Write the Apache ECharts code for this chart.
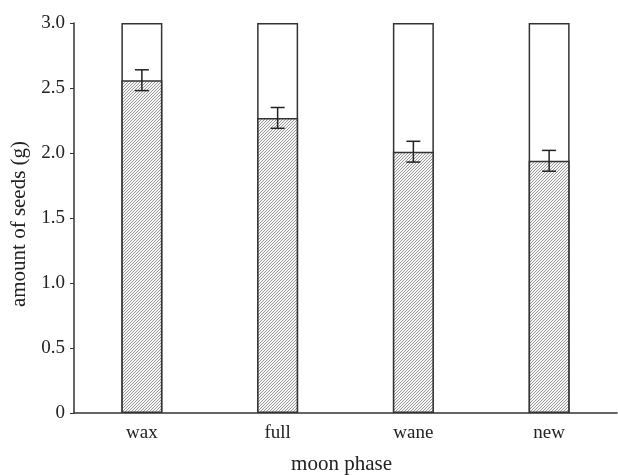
<!DOCTYPE html>
<html><head><meta charset="utf-8">
<script src="https://cdn.jsdelivr.net/npm/echarts@6/dist/echarts.min.js"></script>
<style>html,body{margin:0;padding:0;background:#fff}#c{width:618px;height:475px}</style>
</head><body><div id="c"></div>
<script>
var categories = ['wax', 'full', 'wane', 'new'];
var totalSeeds = [3.0, 3.0, 3.0, 3.0];
var eatenSeeds = [2.56, 2.27, 2.01, 1.94];
var errLow = [2.48, 2.19, 1.93, 1.86];
var errHigh = [2.64, 2.35, 2.09, 2.02];
var yTicks = [0, 0.5, 1.0, 1.5, 2.0, 2.5, 3.0];

var pc = document.createElement('canvas');
pc.width = 3; pc.height = 3;
var g = pc.getContext('2d');
var img = g.createImageData(3, 3);
for (var py = 0; py < 3; py++) {
  for (var px = 0; px < 3; px++) {
    var on = ((px + py) % 3) === 2;
    var v = on ? 0x9a : 0xf6;
    var k = (py * 3 + px) * 4;
    img.data[k] = v; img.data[k + 1] = v; img.data[k + 2] = v; img.data[k + 3] = 255;
  }
}
g.putImageData(img, 0, 0);

var font = '"Liberation Serif", "Times New Roman", serif';
var chart = echarts.init(document.getElementById('c'));
chart.setOption({
  animation: false,
  textStyle: { fontFamily: font },
  grid: { left: 74, right: 1, top: 23, bottom: 62, outerBoundsMode: 'none', containLabel: false },
  xAxis: {
    type: 'category', data: categories,
    name: 'moon phase', nameLocation: 'middle', nameGap: 41,
    nameTextStyle: { fontFamily: font, fontSize: 21, color: '#222', padding: [0, 8, 0, 0] },
    axisLine: { lineStyle: { color: '#333', width: 1.5 } },
    axisTick: { inside: true, alignWithLabel: true, length: 3, lineStyle: { color: '#333' } },
    axisLabel: { fontFamily: font, fontSize: 19, color: '#222', margin: 11 }
  },
  yAxis: {
    type: 'value', min: 0, max: 3, interval: 0.5,
    name: 'amount of seeds (g)', nameLocation: 'middle', nameGap: 42,
    nameTextStyle: { fontFamily: font, fontSize: 21, color: '#222', padding: [0, 12, 0, 0] },
    axisLine: { show: true, lineStyle: { color: '#333', width: 1.5 } },
    axisTick: { show: true, length: 4, lineStyle: { color: '#333' } },
    splitLine: { show: false },
    axisLabel: { fontFamily: font, fontSize: 19, color: '#222', margin: 9,
      formatter: function (v) { return v === 0 ? '0' : v.toFixed(1); } }
  },
  series: [
    { type: 'bar', data: totalSeeds, barWidth: 41, barGap: '-100%', z: 1,
      itemStyle: { color: '#fff', borderColor: '#333', borderWidth: 1.5 } },
    { type: 'bar', data: eatenSeeds, barWidth: 41, z: 2,
      itemStyle: { color: { image: pc, repeat: 'repeat' }, borderColor: '#333', borderWidth: 1.5 } },
    { type: 'custom', z: 5,
      data: categories.map(function (c, i) { return [i, errLow[i], errHigh[i]]; }),
      renderItem: function (params, api) {
        var lo = api.coord([api.value(0), api.value(1)]);
        var hi = api.coord([api.value(0), api.value(2)]);
        var w = 7;
        var st = { stroke: '#222', lineWidth: 1.5 };
        return { type: 'group', children: [
          { type: 'line', shape: { x1: lo[0], y1: lo[1], x2: hi[0], y2: hi[1] }, style: st },
          { type: 'line', shape: { x1: lo[0] - w, y1: lo[1], x2: lo[0] + w, y2: lo[1] }, style: st },
          { type: 'line', shape: { x1: hi[0] - w, y1: hi[1], x2: hi[0] + w, y2: hi[1] }, style: st }
        ]};
      }
    }
  ]
});
</script></body></html>
